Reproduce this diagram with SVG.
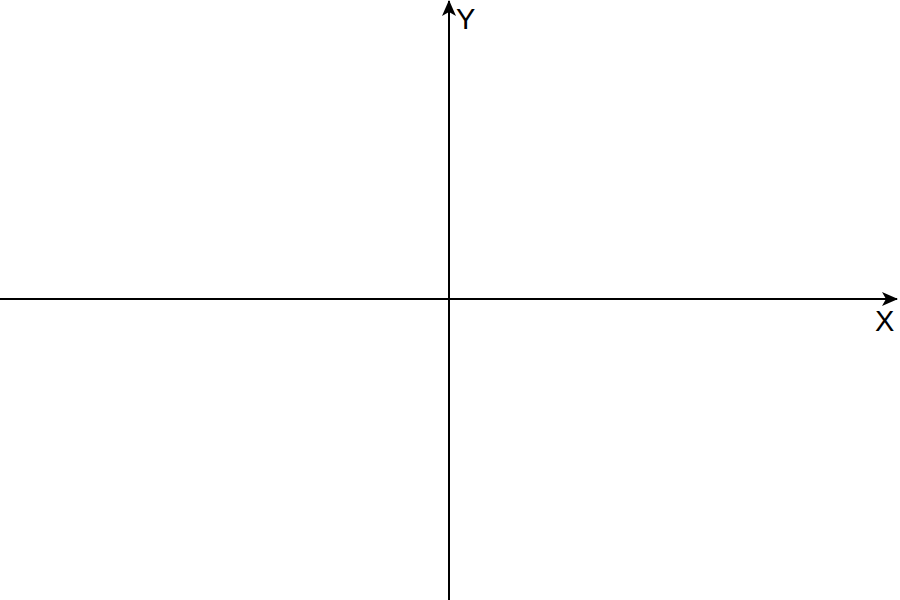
<svg xmlns="http://www.w3.org/2000/svg" width="900" height="600" viewBox="0 0 900 600">
<style>
.axis{stroke:#000;stroke-width:2;fill:none}
.lbl{font-family:"Liberation Sans",Arial,sans-serif;font-size:29px;fill:#000}
</style>
<defs>
<marker id="arr" viewBox="0 0 16 14" refX="15" refY="7" markerWidth="16" markerHeight="14" markerUnits="userSpaceOnUse" orient="auto">
<path d="M0,0 L16,7 L0,14 L4,7 Z" fill="#000"/>
</marker>
</defs>
<rect width="900" height="600" fill="#fff"/>
<g id="connectors">
<line class="axis" x1="0" y1="299" x2="897" y2="299" marker-end="url(#arr)"/>
<line class="axis" x1="449" y1="600" x2="449" y2="1" marker-end="url(#arr)"/>
</g>
<g id="label-y"><text class="lbl" x="456" y="29">Y</text></g>
<g id="label-x"><text class="lbl" x="875" y="331">X</text></g>
</svg>
